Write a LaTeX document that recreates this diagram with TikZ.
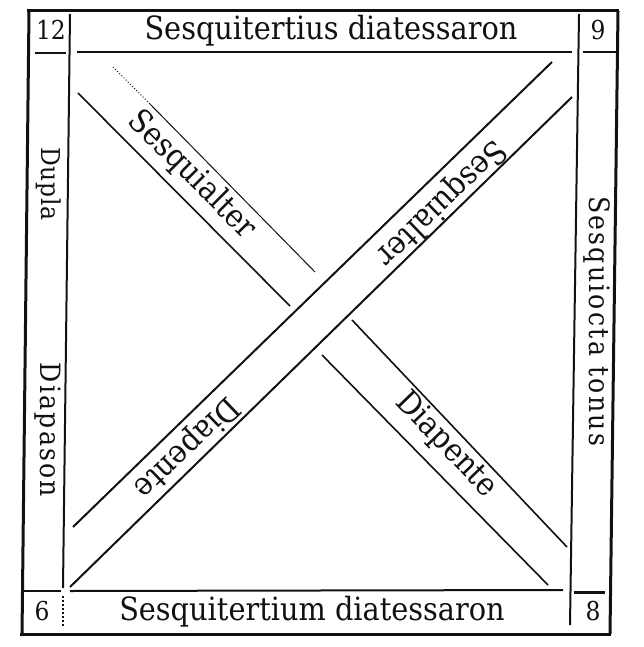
\documentclass[tikz,border=0pt]{standalone}
\usepackage{fontspec}
\newfontfamily\platefont{DejaVu Serif Condensed}
\usetikzlibrary{positioning}
\definecolor{ink}{HTML}{111111}

\begin{document}
\begin{tikzpicture}[x=0.5pt, y=-0.5pt,
    every node/.style={text=ink, inner sep=0pt},
    frame/.style={draw=ink, line width=1.5pt},
    rule/.style={draw=ink, line width=1pt},
    band/.style={draw=ink, line width=0.8pt},
    faint/.style={draw=ink, line width=0.5pt},
    title/.style={font=\platefont\fontsize{16}{19}\selectfont},
    numeral/.style={font=\platefont\fontsize{13}{15}\selectfont},
    side/.style={font=\platefont\fontsize{14}{16}\selectfont\addfontfeatures{LetterSpace=8}, rotate=-90},
  ]
  \useasboundingbox (0,0) rectangle (643,647);

  % outer frame, a little out of square as printed
  \draw[frame] (29,11) -- (22,636);
  \draw[frame] (27,11) -- (619,11);
  \draw[frame] (618,11) -- (610,634);
  \draw[frame] (20,634) -- (611,634);

  % inner rules of the side columns
  \draw[rule] (70,14) -- (63,588);
  \draw[rule, densely dotted] (63,596) -- (63,628);
  \draw[rule] (579,14) -- (570,625);

  % rules under the top row and over the bottom row
  \draw[rule] (35,53) -- (66,53);
  \draw[rule] (77,52) -- (572,52);
  \draw[rule] (583,52) -- (617,52);
  \draw[rule] (24,591) -- (61,591);
  \draw[rule] (70,591) -- (563,590);
  \draw[frame] (574,592) -- (605,592);

  % first band, top left to bottom right, broken by the second
  \draw[band] (78,93) -- (290,306);
  \draw[faint, densely dotted] (113,67) -- (150,104);
  \draw[faint] (150,104) -- (315,272);
  \draw[band] (352,320) -- (567,547);
  \draw[band] (322,355) -- (548,585);

  % second band, bottom left to top right
  \draw[rule] (73,527) -- (552,62);
  \draw[rule] (70,587) -- (572,97);

  % row labels
  \node[title] (toplabel) at (331,31) {Sesquitertius diatessaron};
  \node[title] (bottomlabel) at (312,612) {Sesquitertium diatessaron};

  % numbers in the corners
  \foreach \p/\lab in {{(51,30)}/12, {(598,30)}/9, {(42,611)}/6, {(593,611)}/8}
    \node[numeral] (n\lab) at \p {\lab};

  % column labels
  \node[side, font=\platefont\fontsize{13}{15}\selectfont\addfontfeatures{LetterSpace=3}] (dupla) at (49,184) {Dupla};
  \node[side] (diapason) at (48,430) {Diapason};
  \node[side] (sesquiocta) at (597,321) {Sesquiocta tonus};

  % band labels
  \node[title, rotate=-45] (sesqA) at (192,175) {Sesquialter};
  \node[title, rotate=-46] (diapA) at (446,445) {Diapente};
  \node[title, rotate=224] (diapB) at (186,447) {Diapente};
  \node[title, rotate=224] (sesqB) at (441,203) {Sesquialter};
\end{tikzpicture}
\end{document}
